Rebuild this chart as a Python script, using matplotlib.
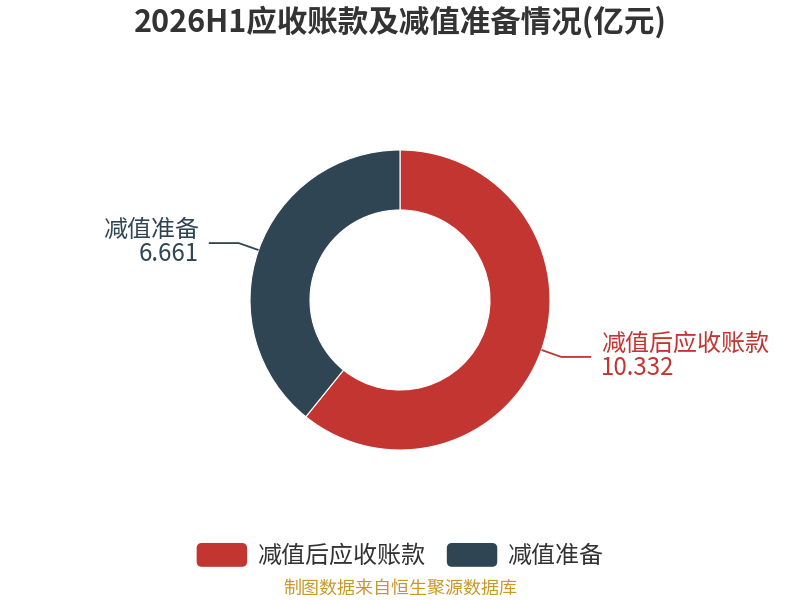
import matplotlib
matplotlib.use("Agg")
import matplotlib.pyplot as plt
from matplotlib.legend_handler import HandlerPatch
from matplotlib.patches import FancyBboxPatch
import numpy as np

plt.rcParams['font.family'] = ['Noto Sans CJK SC', 'DejaVu Sans']

title = "2026H1应收账款及减值准备情况(亿元)"
categories = ["减值后应收账款", "减值准备"]
values = [10.332, 6.661]
colors = ["#c23531", "#2f4554"]
source = "制图数据来自恒生聚源数据库"

fig = plt.figure(figsize=(8, 6), dpi=100)
ax = fig.add_axes([0, 0, 1, 1])

cx, cy, R, W = 400, 300, 150, 60
wedges, _ = ax.pie(values, colors=colors, startangle=90, counterclock=False,
                   center=(cx, cy), radius=R,
                   wedgeprops=dict(width=W, edgecolor='white', linewidth=0.8),
                   frame=True)
ax.set_xlim(0, 800)
ax.set_ylim(0, 600)
ax.set_aspect('equal')
ax.axis('off')

total = sum(values)
start = 90.0
for cat, v, c in zip(categories, values, colors):
    sweep = v / total * 360
    mid = np.deg2rad(start - sweep / 2)
    start -= sweep
    x0, y0 = cx + R * np.cos(mid), cy + R * np.sin(mid)
    x1, y1 = cx + (R + 21) * np.cos(mid), cy + (R + 21) * np.sin(mid)
    side = 1 if np.cos(mid) >= 0 else -1
    x2 = x1 + side * 30
    ax.plot([x0, x1, x2], [y0, y1, y1], color=c, lw=1.3, solid_capstyle='butt')
    ha = 'left' if side > 0 else 'right'
    ax.text(x2 + side * 10, y1 + 1, f"{cat}\n{v:.3f}", ha=ha, va='center',
            fontsize=17.3, color=c, linespacing=0.9)

fig.text(0.5, 1 - 22 / 600, title, ha='center', va='center', fontsize=22,
         fontweight='bold', color='#333333')


class RoundHandler(HandlerPatch):
    def create_artists(self, legend, orig_handle, xdescent, ydescent, width,
                       height, fontsize, trans):
        p = FancyBboxPatch((-xdescent, -ydescent), width, height,
                           boxstyle="round,pad=0,rounding_size=%f" % (height * 0.22),
                           facecolor=orig_handle.get_facecolor(), edgecolor='none',
                           transform=trans)
        return [p]


leg = fig.legend(wedges, categories, loc='center', bbox_to_anchor=(0.5, 1 - 556 / 600),
                 ncol=2, frameon=False, fontsize=17.3, handlelength=2.1, handleheight=1.15,
                 columnspacing=0.9, handletextpad=0.42,
                 handler_map={w: RoundHandler() for w in wedges})
for t in leg.get_texts():
    t.set_color('#333333')

fig.text(0.5, 1 - 589 / 600, source, ha='center', va='center', fontsize=13,
         color='#c8982a')

fig.savefig("out.png", dpi=100)
